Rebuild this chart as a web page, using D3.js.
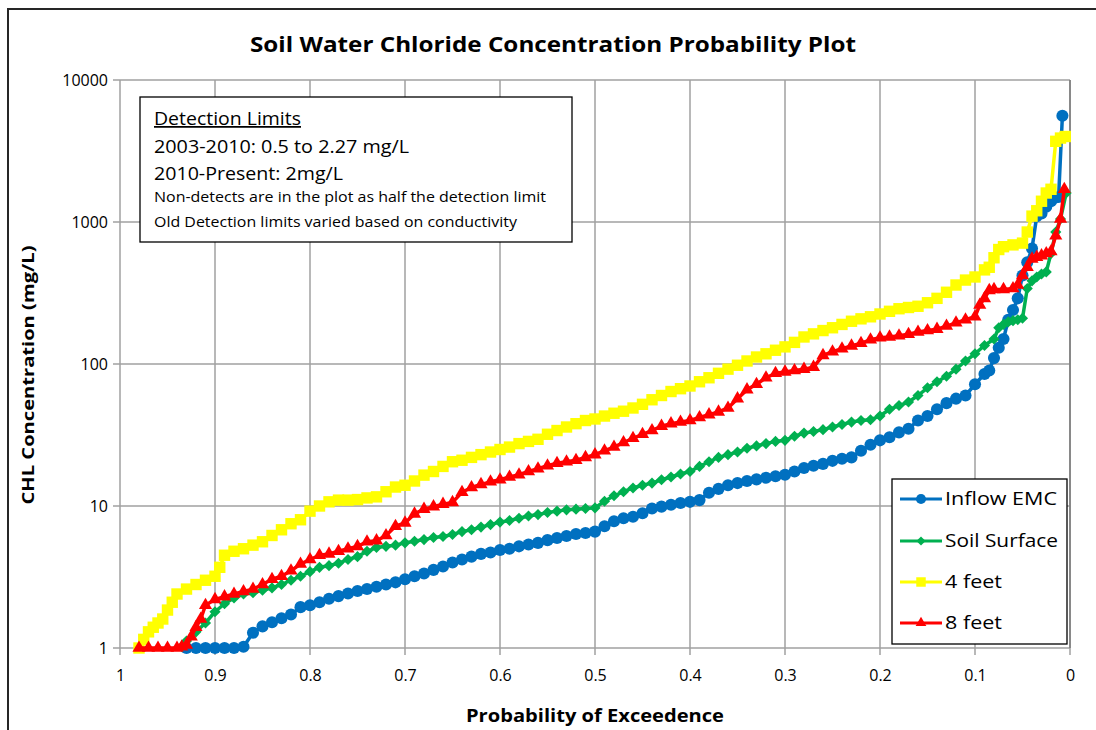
<!DOCTYPE html>
<html>
<head>
<meta charset="utf-8">
<script src="https://cdn.jsdelivr.net/npm/d3@7"></script>
<style>
  body { margin: 0; background: #fff; }
  text { font-family: "Open Sans", "DejaVu Sans", sans-serif; fill: #000; }
</style>
</head>
<body>
<div id="chart"></div>
<script>
// tick labels
var xTicks = [1, 0.9, 0.8, 0.7, 0.6, 0.5, 0.4, 0.3, 0.2, 0.1, 0];
var xTickLabels = ["1", "0.9", "0.8", "0.7", "0.6", "0.5", "0.4", "0.3", "0.2", "0.1", "0"];
var yTicks = [1, 10, 100, 1000, 10000];
var yTickLabels = ["1", "10", "100", "1000", "10000"];

var seriesNames = ["Inflow EMC", "Soil Surface", "4 feet", "8 feet"];

// [probability of exceedence, concentration mg/L]
var inflowEMC = [
  [0.93,1],[0.92,1],[0.91,1],[0.90,1],[0.89,1],[0.88,1],[0.87,1.02],[0.86,1.28],[0.85,1.42],[0.84,1.52],
  [0.83,1.62],[0.82,1.72],[0.81,1.94],[0.80,2.0],[0.79,2.1],[0.78,2.22],[0.77,2.32],[0.76,2.42],[0.75,2.52],
  [0.74,2.6],[0.73,2.7],[0.72,2.8],[0.71,2.9],[0.70,3.05],[0.69,3.2],[0.68,3.35],[0.67,3.55],[0.66,3.75],
  [0.65,4.0],[0.64,4.2],[0.63,4.4],[0.62,4.6],[0.61,4.7],[0.60,4.9],[0.59,5.0],[0.58,5.2],[0.57,5.35],
  [0.56,5.5],[0.55,5.75],[0.54,5.95],[0.53,6.15],[0.52,6.35],[0.51,6.45],[0.50,6.6],[0.49,7.2],[0.48,7.8],
  [0.47,8.2],[0.46,8.4],[0.45,8.9],[0.44,9.6],[0.43,9.9],[0.42,10.2],[0.41,10.5],[0.40,10.7],[0.39,11],
  [0.38,12.4],[0.37,13.2],[0.36,14],[0.35,14.5],[0.34,15],[0.33,15.4],[0.32,15.8],[0.31,16.2],[0.30,16.6],
  [0.29,17.5],[0.28,18.5],[0.27,19.2],[0.26,19.8],[0.25,20.8],[0.24,21.5],[0.23,22],[0.22,24.5],[0.21,27],
  [0.20,29],[0.19,30.5],[0.18,33],[0.17,35],[0.16,40],[0.15,43],[0.14,48],[0.13,53],[0.12,57],[0.11,60],
  [0.10,72],[0.09,85],[0.085,90],[0.08,110],[0.075,130],[0.07,150],[0.065,205],[0.06,240],[0.055,290],
  [0.05,420],[0.045,520],[0.04,650],[0.035,1100],[0.03,1150],[0.025,1280],[0.02,1400],[0.016,1480],
  [0.012,1500],[0.008,5600]
];

var soilSurface = [
  [0.935,1.02],[0.93,1.12],[0.92,1.3],[0.91,1.5],[0.90,1.8],[0.89,2.05],[0.88,2.25],[0.87,2.4],[0.86,2.45],
  [0.85,2.55],[0.84,2.65],[0.83,2.8],[0.82,3.0],[0.81,3.2],[0.80,3.45],[0.79,3.7],[0.78,3.8],[0.77,3.95],
  [0.76,4.2],[0.75,4.4],[0.74,4.8],[0.73,5.1],[0.72,5.2],[0.71,5.3],[0.70,5.5],[0.69,5.65],[0.68,5.8],
  [0.67,6.0],[0.66,6.1],[0.65,6.3],[0.64,6.6],[0.63,6.8],[0.62,7.1],[0.61,7.4],[0.60,7.7],[0.59,7.9],
  [0.58,8.2],[0.57,8.5],[0.56,8.7],[0.55,9.0],[0.54,9.2],[0.53,9.4],[0.52,9.5],[0.51,9.6],[0.50,9.7],
  [0.49,10.8],[0.48,11.8],[0.47,12.6],[0.46,13.4],[0.45,14],[0.44,14.5],[0.43,15.3],[0.42,16],[0.41,16.8],
  [0.40,17.5],[0.39,19],[0.38,20.5],[0.37,22],[0.36,23],[0.35,24],[0.34,25.5],[0.33,26.5],[0.32,27.5],
  [0.31,28.5],[0.30,29],[0.29,31],[0.28,32.6],[0.27,33.5],[0.26,34.5],[0.25,36],[0.24,37.5],[0.23,39],
  [0.22,40],[0.21,40.5],[0.20,43],[0.19,48],[0.18,51],[0.17,54],[0.16,60],[0.15,68],[0.14,75],[0.13,82],
  [0.12,92],[0.11,105],[0.10,118],[0.09,135],[0.08,150],[0.075,180],[0.07,190],[0.065,198],[0.06,202],
  [0.055,205],[0.05,210],[0.045,340],[0.04,385],[0.035,410],[0.03,430],[0.025,445],[0.02,600],
  [0.015,850],[0.01,1050],[0.004,1600]
];

var fourFeet = [
  [0.98,1.0],[0.975,1.15],[0.97,1.3],[0.965,1.4],[0.96,1.5],[0.955,1.6],[0.95,1.85],[0.945,2.1],[0.94,2.4],
  [0.93,2.6],[0.92,2.8],[0.91,3.0],[0.90,3.2],[0.895,3.7],[0.89,4.5],[0.88,4.8],[0.87,5.0],[0.86,5.3],
  [0.85,5.6],[0.84,6.2],[0.83,6.8],[0.82,7.5],[0.81,8.0],[0.80,9.2],[0.79,10.0],[0.78,10.7],[0.77,11],
  [0.76,11],[0.75,11.1],[0.74,11.4],[0.73,11.6],[0.72,12.6],[0.71,13.6],[0.70,14],[0.69,15],[0.68,16.5],
  [0.67,17.5],[0.66,19],[0.65,20.5],[0.64,21],[0.63,22],[0.62,23],[0.61,24],[0.60,25],[0.59,26],[0.58,27.5],
  [0.57,28.5],[0.56,29.5],[0.55,32],[0.54,34],[0.53,36],[0.52,38],[0.51,40],[0.50,41],[0.49,43],[0.48,45],
  [0.47,46.5],[0.46,49],[0.45,52],[0.44,56],[0.43,60],[0.42,64],[0.41,67],[0.40,70],[0.39,75],[0.38,80],
  [0.37,86],[0.36,92],[0.35,98],[0.34,105],[0.33,112],[0.32,118],[0.31,125],[0.30,132],[0.29,142],
  [0.28,155],[0.27,163],[0.26,172],[0.25,180],[0.24,190],[0.23,200],[0.22,208],[0.21,215],[0.20,225],
  [0.19,235],[0.18,245],[0.17,250],[0.16,255],[0.15,270],[0.14,290],[0.13,320],[0.12,360],[0.11,390],
  [0.10,410],[0.09,460],[0.085,480],[0.08,560],[0.075,640],[0.07,670],[0.06,690],[0.05,710],[0.045,850],
  [0.04,1100],[0.035,1200],[0.03,1400],[0.025,1600],[0.02,1700],[0.015,3700],[0.01,3900],[0.005,4000]
];

var eightFeet = [
  [0.98,1.0],[0.97,1.0],[0.96,1.0],[0.95,1.0],[0.94,1.0],[0.935,1.02],[0.93,1.05],[0.925,1.2],[0.92,1.4],
  [0.915,1.6],[0.91,2.0],[0.90,2.2],[0.89,2.3],[0.88,2.4],[0.87,2.5],[0.86,2.6],[0.85,2.8],[0.84,3.05],
  [0.83,3.2],[0.82,3.5],[0.81,3.9],[0.80,4.2],[0.79,4.5],[0.78,4.6],[0.77,4.8],[0.76,5.0],[0.75,5.2],
  [0.74,5.6],[0.73,5.7],[0.72,6.2],[0.71,7.2],[0.70,7.6],[0.69,8.8],[0.68,9.5],[0.67,9.9],[0.66,10.3],
  [0.65,10.6],[0.64,12.5],[0.63,13.5],[0.62,14.2],[0.61,14.8],[0.60,15.3],[0.59,16],[0.58,16.6],[0.57,17.5],
  [0.56,18.3],[0.55,19.2],[0.54,20],[0.53,20.5],[0.52,21],[0.51,22],[0.50,23],[0.49,24.5],[0.48,26],
  [0.47,28],[0.46,30],[0.45,32],[0.44,34],[0.43,36.5],[0.42,38],[0.41,39],[0.40,40],[0.39,42],[0.38,44],
  [0.37,46],[0.36,49],[0.35,57],[0.34,66],[0.33,72],[0.32,80],[0.31,86],[0.30,88],[0.29,90],[0.28,92],
  [0.27,95],[0.26,115],[0.25,122],[0.24,128],[0.23,134],[0.22,140],[0.21,148],[0.20,153],[0.19,155],
  [0.18,158],[0.17,162],[0.16,168],[0.15,172],[0.14,176],[0.13,185],[0.12,195],[0.11,205],[0.10,215],
  [0.095,260],[0.09,290],[0.085,330],[0.08,335],[0.07,335],[0.06,340],[0.055,360],[0.05,420],[0.045,480],
  [0.04,550],[0.035,565],[0.03,580],[0.025,600],[0.02,620],[0.015,800],[0.01,1050],[0.006,1700]
];

var noteLines = [
  "Detection Limits",
  "2003-2010: 0.5 to 2.27 mg/L",
  "2010-Present: 2mg/L",
  "Non-detects are in the plot as half the detection limit",
  "Old Detection limits varied based on conductivity"
];

var W = 1096, H = 730;
var margin = {top: 80, right: 26, bottom: 82, left: 120},
    width = W - margin.left - margin.right,
    height = H - margin.top - margin.bottom;

var svg = d3.select("#chart")
  .append("svg")
    .attr("width", W)
    .attr("height", H);

// outer chart frame
svg.append("rect")
  .attr("x", 8).attr("y", 9)
  .attr("width", W + 20).attr("height", H + 20)
  .attr("fill", "none")
  .attr("stroke", "#262626")
  .attr("stroke-width", 2);

svg.append("text")
  .attr("x", 553).attr("y", 52)
  .attr("text-anchor", "middle")
  .attr("textLength", 606)
  .attr("lengthAdjust", "spacingAndGlyphs")
  .style("font-size", "21px")
  .style("font-weight", "bold")
  .text("Soil Water Chloride Concentration Probability Plot");

var g = svg.append("g")
  .attr("transform", "translate(" + margin.left + "," + margin.top + ")");

var x = d3.scaleLinear().domain([1, 0]).range([0, width]);
var y = d3.scaleLog().domain([1, 10000]).range([height, 0]);

// gridlines
g.append("g")
  .selectAll("line")
  .data(xTicks)
  .enter().append("line")
    .attr("x1", function(d) { return x(d); })
    .attr("x2", function(d) { return x(d); })
    .attr("y1", 0).attr("y2", height + 7)
    .attr("stroke", "#a0a0a0").attr("stroke-width", 1.5);
g.append("g")
  .selectAll("line")
  .data(yTicks)
  .enter().append("line")
    .attr("x1", -7).attr("x2", width)
    .attr("y1", function(d) { return y(d); })
    .attr("y2", function(d) { return y(d); })
    .attr("stroke", "#a0a0a0").attr("stroke-width", 1.5);
g.append("line")
  .attr("x1", width).attr("x2", width).attr("y1", 0).attr("y2", height)
  .attr("stroke", "#7a7a7a").attr("stroke-width", 1.5);

// axes (labels only, lines drawn above)
var xAxis = g.append("g")
  .attr("transform", "translate(0," + height + ")")
  .call(d3.axisBottom(x).tickValues(xTicks).tickSize(0).tickPadding(22)
    .tickFormat(function(d, i) { return xTickLabels[i]; }));
xAxis.select(".domain").remove();
xAxis.selectAll("text").style("font-size", "16px").style("font-family", "'Open Sans', sans-serif");

var yAxis = g.append("g")
  .call(d3.axisLeft(y).tickValues(yTicks).tickSize(0).tickPadding(12)
    .tickFormat(function(d, i) { return yTickLabels[i]; }));
yAxis.select(".domain").remove();
yAxis.selectAll("text").style("font-size", "16px").style("font-family", "'Open Sans', sans-serif");

svg.append("text")
  .attr("transform", "translate(34," + (margin.top + height / 2 + 11) + ") rotate(-90)")
  .attr("text-anchor", "middle")
  .attr("textLength", 259)
  .attr("lengthAdjust", "spacingAndGlyphs")
  .style("font-size", "16.5px")
  .style("font-weight", "bold")
  .text("CHL Concentration (mg/L)");

svg.append("text")
  .attr("x", 595).attr("y", 722)
  .attr("text-anchor", "middle")
  .attr("textLength", 258)
  .attr("lengthAdjust", "spacingAndGlyphs")
  .style("font-size", "17px")
  .style("font-weight", "bold")
  .text("Probability of Exceedence");

// series
var color = d3.scaleOrdinal()
  .domain(seriesNames)
  .range(["#0070C0", "#00B050", "#FFFF00", "#FF0000"]);

var symbolFor = {
  "Inflow EMC": {type: d3.symbolCircle, size: 115, legSize: 80, rot: 0},
  "Soil Surface": {type: d3.symbolSquare, size: 62, legSize: 42, rot: 45},
  "4 feet": {type: d3.symbolSquare, size: 130, legSize: 90, rot: 0},
  "8 feet": {type: d3.symbolTriangle, size: 75, legSize: 50, rot: 0}
};

var allSeries = [
  {name: "Inflow EMC", values: inflowEMC},
  {name: "Soil Surface", values: soilSurface},
  {name: "4 feet", values: fourFeet},
  {name: "8 feet", values: eightFeet}
];

var line = d3.line()
  .x(function(d) { return x(d[0]); })
  .y(function(d) { return y(d[1]); });

allSeries.forEach(function(s) {
  var sg = g.append("g").attr("class", "series");
  sg.append("path")
    .datum(s.values)
    .attr("d", line)
    .attr("fill", "none")
    .attr("stroke", color(s.name))
    .attr("stroke-width", 3.5)
    .attr("stroke-linejoin", "round");
  var sym = symbolFor[s.name];
  sg.selectAll("path.pt")
    .data(s.values)
    .enter().append("path")
      .attr("class", "pt")
      .attr("d", d3.symbol().type(sym.type).size(sym.size))
      .attr("transform", function(d) {
        return "translate(" + x(d[0]) + "," + y(d[1]) + ") rotate(" + sym.rot + ")";
      })
      .attr("fill", color(s.name));
});

// detection limits note
var note = svg.append("g");
note.append("rect")
  .attr("x", 140).attr("y", 97)
  .attr("width", 432).attr("height", 145)
  .attr("fill", "#fff")
  .attr("stroke", "#000")
  .attr("stroke-width", 1.3);
var noteY = [125, 153, 180, 202, 227];
var noteSize = [17.5, 17.5, 17.5, 14, 14];
var noteLen = [147, 255, 189, 392, 363];
note.selectAll("text")
  .data(noteLines)
  .enter().append("text")
    .attr("x", 154)
    .attr("y", function(d, i) { return noteY[i]; })
    .attr("textLength", function(d, i) { return noteLen[i]; })
    .attr("lengthAdjust", "spacingAndGlyphs")
    .style("font-size", function(d, i) { return noteSize[i] + "px"; })
    .style("text-decoration", function(d, i) { return i === 0 ? "underline" : "none"; })
    .text(function(d) { return d; });

// legend
var legend = svg.append("g");
legend.append("rect")
  .attr("x", 892).attr("y", 479)
  .attr("width", 175).attr("height", 165)
  .attr("fill", "#fff")
  .attr("stroke", "#000")
  .attr("stroke-width", 1.3);
var legY = [499, 541, 582, 623];
var legLen = [112, 113, 57, 57];
seriesNames.forEach(function(name, i) {
  var sym = symbolFor[name];
  legend.append("line")
    .attr("x1", 900).attr("x2", 942)
    .attr("y1", legY[i]).attr("y2", legY[i])
    .attr("stroke", color(name)).attr("stroke-width", 3);
  legend.append("path")
    .attr("d", d3.symbol().type(sym.type).size(sym.legSize))
    .attr("transform", "translate(921," + legY[i] + ") rotate(" + sym.rot + ")")
    .attr("fill", color(name));
  legend.append("text")
    .attr("x", 945).attr("y", legY[i] + 6)
    .attr("textLength", legLen[i])
    .attr("lengthAdjust", "spacingAndGlyphs")
    .style("font-size", "17.5px")
    .text(name);
});
</script>
</body>
</html>
